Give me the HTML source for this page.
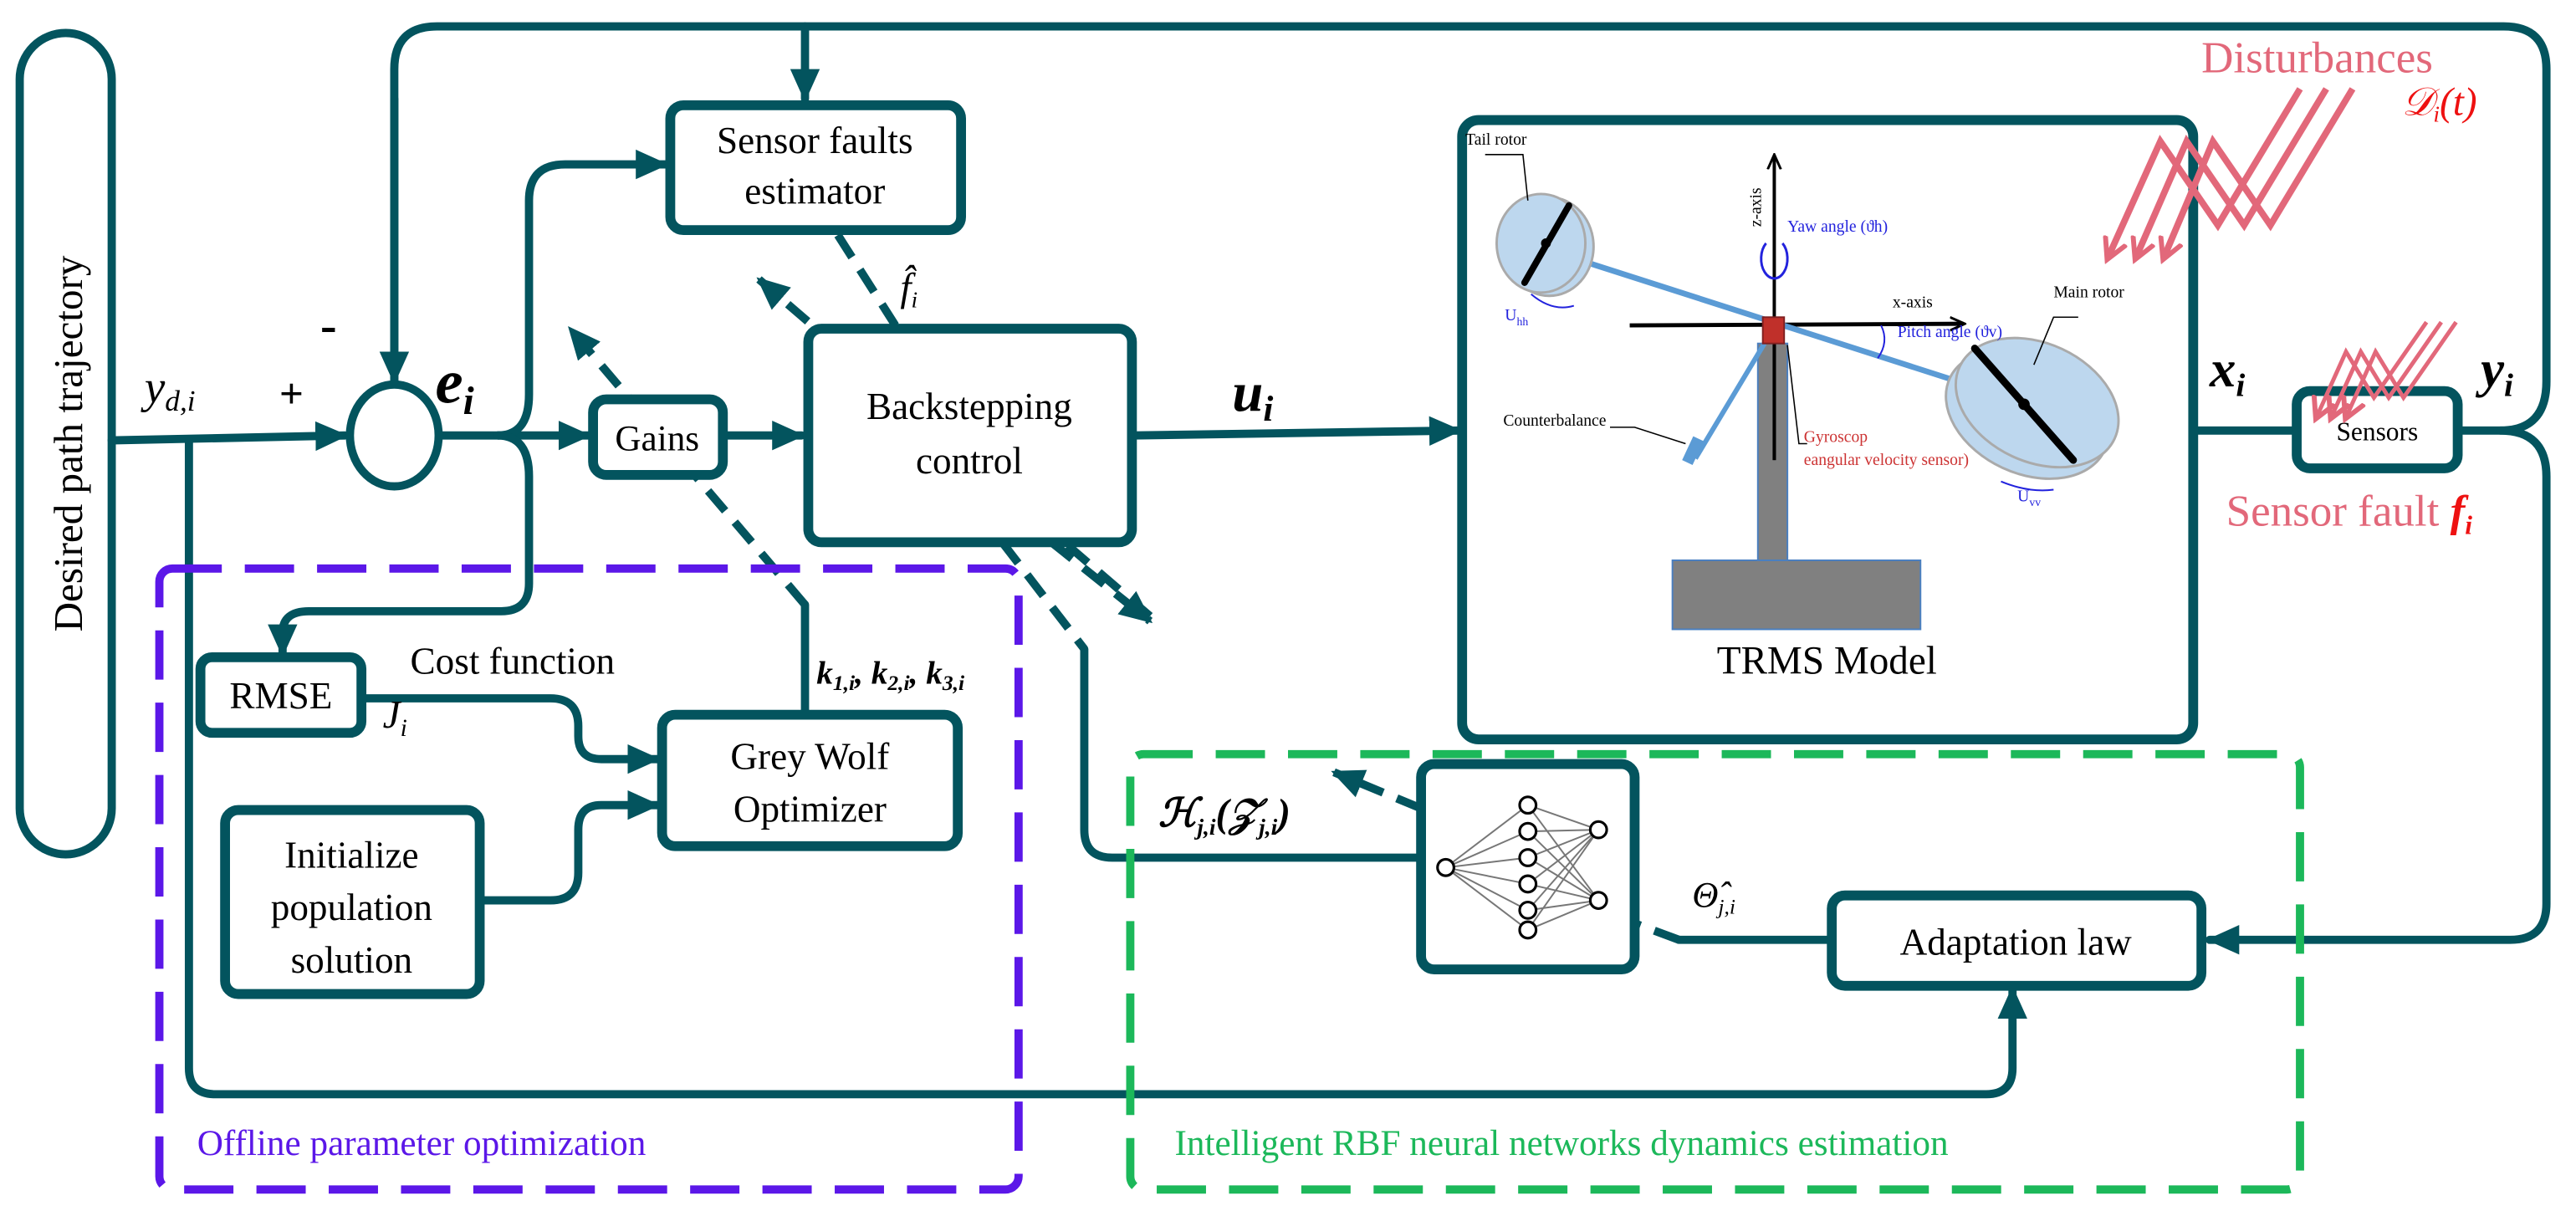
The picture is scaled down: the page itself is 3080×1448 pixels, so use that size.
<!DOCTYPE html>
<html><head><meta charset="utf-8"><style>
html,body{margin:0;padding:0;background:#fff}
svg{display:block}
text{font-family:"Liberation Serif",serif}
</style></head><body>
<svg width="3080" height="1448" viewBox="0 0 1568 737" xmlns="http://www.w3.org/2000/svg">
<defs>
<marker id="a" markerUnits="userSpaceOnUse" markerWidth="22" markerHeight="22" refX="18" refY="11" orient="auto"><path d="M0,2 L20,11 L0,20 Z" fill="#03545e"/></marker>
<marker id="p" markerUnits="userSpaceOnUse" markerWidth="16" markerHeight="16" refX="12" refY="8" orient="auto"><path d="M0,1 L13,8 L0,15" fill="none" stroke="#e2687a" stroke-width="3"/></marker>
<marker id="k" markerUnits="userSpaceOnUse" markerWidth="10" markerHeight="10" refX="8" refY="5" orient="auto"><path d="M0,1 L9,5 L0,9" fill="none" stroke="#000" stroke-width="1.5"/></marker>
</defs>
<g fill="none" stroke="#03545e" stroke-width="5" stroke-linecap="round" stroke-linejoin="round">
<rect x="12" y="20" width="56" height="500" rx="28"/>
<path d="M68,268 L210,265" marker-end="url(#a)"/>
<path d="M115,268 L115,650 Q115,666 131,666 L1209,666 Q1225,666 1225,650 L1225,602" marker-end="url(#a)"/>
<ellipse cx="240" cy="265" rx="27" ry="31"/>
<path d="M240,232 L240,42 Q240,16 266,16 L1524,16 Q1550,16 1550,42 L1550,232 Q1550,262 1522,262 L1497,262"/>
<path d="M1522,262 Q1550,262 1550,290 L1550,550 Q1550,572 1528,572 L1345,572" marker-end="url(#a)"/>
<path d="M240,60 L240,232" marker-end="url(#a)"/>
<path d="M490,16 L490,60" marker-end="url(#a)"/>
<path d="M268,265 L358,265" marker-end="url(#a)"/>
<path d="M303,265 Q322,265 322,240 L322,122 Q322,100 344,100 L405,100" marker-end="url(#a)"/>
<path d="M303,265 Q322,265 322,290 L322,355 Q322,372 305,372 L188,372 Q172,372 172,385 L172,398" marker-end="url(#a)"/>
<path d="M440,265 L488,265" marker-end="url(#a)"/>
<path d="M690,265 L888,262" marker-end="url(#a)"/>
<path d="M1335,262 L1398,262"/>
<path d="M220,425 L335,425 Q352,425 352,442 L352,448 Q352,462 366,462 L400,462" marker-end="url(#a)"/>
<path d="M292,548 L335,548 Q352,548 352,531 L352,505 Q352,490 366,490 L400,490" marker-end="url(#a)"/>
<path d="M490,368 L490,433"/>
<path d="M660,395 L660,505 Q660,522 677,522 L863,522"/>
<path d="M1115,572 L1022,572"/>
</g>
<g fill="none" stroke="#03545e" stroke-width="5" stroke-dasharray="16,9">
<path d="M510,143 L545,198"/>
<path d="M700,375 L462,170" marker-end="url(#a)"/>
<path d="M490,368 L347,200" marker-end="url(#a)"/>
<path d="M610,330 L660,395"/>
<path d="M640,330 L700,378" marker-end="url(#a)"/>
<path d="M865,492 L812,470" marker-end="url(#a)"/>
<path d="M1022,572 L995,562"/>
</g>
<g fill="#fff" stroke="#03545e" stroke-width="6">
<rect x="408" y="64" width="177" height="76" rx="8"/>
<rect x="361" y="243" width="79" height="46" rx="8"/>
<rect x="492" y="200" width="197" height="130" rx="8"/>
<rect x="890" y="73" width="445" height="377" rx="10"/>
<rect x="122" y="400" width="98" height="46" rx="7"/>
<rect x="403" y="435" width="180" height="80" rx="8"/>
<rect x="137" y="493" width="155" height="112" rx="8"/>
<rect x="865" y="465" width="130" height="125" rx="8"/>
<rect x="1115" y="545" width="225" height="55" rx="8"/>
<rect x="1398" y="238" width="98" height="47" rx="8"/>
</g>
<rect x="97" y="346" width="523" height="378" rx="8" fill="none" stroke="#5b17e8" stroke-width="5" stroke-dasharray="30,14"/>
<rect x="688" y="459" width="712" height="265" rx="8" fill="none" stroke="#1cb85a" stroke-width="5" stroke-dasharray="30,14"/>
<g font-size="23" text-anchor="middle" fill="#000">
<text transform="translate(50,270) rotate(-90)" font-size="25">Desired path trajectory</text>
<text x="496" y="93">Sensor faults</text>
<text x="496" y="124">estimator</text>
<text x="400" y="274" font-size="22">Gains</text>
<text x="590" y="255">Backstepping</text>
<text x="590" y="288">control</text>
<text x="171" y="431">RMSE</text>
<text x="493" y="468">Grey Wolf</text>
<text x="493" y="500">Optimizer</text>
<text x="214" y="528">Initialize</text>
<text x="214" y="560">population</text>
<text x="214" y="592">solution</text>
<text x="1227" y="581">Adaptation law</text>
<text x="1447" y="268" font-size="16">Sensors</text>
<text x="1112" y="410" font-size="24">TRMS Model</text>
<text x="312" y="410" font-size="23">Cost function</text>
</g>
<g fill="#000">
<text x="88" y="245" font-size="28" font-style="italic">y<tspan font-size="18" dy="5">d,i</tspan></text>
<text x="170" y="248" font-size="26" font-weight="bold">+</text>
<text x="195" y="208" font-size="30" font-weight="bold">-</text>
<text x="265" y="245" font-size="38" font-style="italic" font-weight="bold">e<tspan font-size="24" dy="7">i</tspan></text>
<text x="548" y="183" font-size="24" font-style="italic">f̂<tspan font-size="14" dy="4">i</tspan></text>
<text x="750" y="250" font-size="34" font-style="italic" font-weight="bold">u<tspan font-size="22" dy="6">i</tspan></text>
<text x="233" y="443" font-size="24" font-style="italic">J<tspan font-size="15" dy="5">i</tspan></text>
<text x="497" y="416" font-size="20" font-style="italic" font-weight="bold">k<tspan font-size="13" dy="4">1,i</tspan><tspan dy="-4">, k</tspan><tspan font-size="13" dy="4">2,i</tspan><tspan dy="-4">, k</tspan><tspan font-size="13" dy="4">3,i</tspan></text>
<text x="705" y="503" font-size="24" font-style="italic" font-weight="bold">ℋ<tspan font-size="14" dy="5">j,i</tspan><tspan dy="-5">(𝒵</tspan><tspan font-size="14" dy="5">j,i</tspan><tspan dy="-5">)</tspan></text>
<text x="1030" y="552" font-size="22" font-style="italic">Θ̂<tspan font-size="13" dy="4">j,i</tspan></text>
<text x="1345" y="235" font-size="32" font-style="italic" font-weight="bold">x<tspan font-size="20" dy="6">i</tspan></text>
<text x="1510" y="235" font-size="32" font-style="italic" font-weight="bold">y<tspan font-size="20" dy="6">i</tspan></text>
</g>
<text x="1340" y="44" font-size="27" fill="#e2687a">Disturbances</text>
<text x="1462" y="70" font-size="24" fill="#ee1111" font-style="italic">𝒟<tspan font-size="14" dy="4">i</tspan><tspan dy="-4">(t)</tspan></text>
<text x="1355" y="320" font-size="27" fill="#e2687a">Sensor fault <tspan fill="#ee1111" font-style="italic" font-weight="bold">f<tspan font-size="16" dy="5">i</tspan></tspan></text>
<text x="120" y="703" font-size="22" fill="#5b17e8">Offline parameter optimization</text>
<text x="715" y="703" font-size="22" fill="#1cb85a">Intelligent RBF neural networks dynamics estimation</text>
<g fill="none" stroke="#e2687a" stroke-width="4">
<polyline points="1400,54 1350,137 1315,86 1283,157" marker-end="url(#p)"/>
<polyline points="1416,54 1366,137 1331,86 1300,157" marker-end="url(#p)"/>
<polyline points="1432,54 1382,137 1347,86 1317,157" marker-end="url(#p)"/>
<g stroke-width="2.5">
<polyline points="1477,196 1445,242 1428,214 1410,254" marker-end="url(#p)"/>
<polyline points="1486,196 1454,242 1437,214 1419,254" marker-end="url(#p)"/>
<polyline points="1495,196 1463,242 1446,214 1428,254" marker-end="url(#p)"/>
</g>
</g>
<g stroke="#777" stroke-width="1">
<line x1="880" y1="528" x2="930" y2="490"/><line x1="880" y1="528" x2="930" y2="506"/><line x1="880" y1="528" x2="930" y2="522"/><line x1="880" y1="528" x2="930" y2="538"/><line x1="880" y1="528" x2="930" y2="554"/><line x1="880" y1="528" x2="930" y2="566"/>
<line x1="930" y1="490" x2="973" y2="505"/><line x1="930" y1="506" x2="973" y2="505"/><line x1="930" y1="522" x2="973" y2="505"/><line x1="930" y1="538" x2="973" y2="505"/><line x1="930" y1="554" x2="973" y2="505"/><line x1="930" y1="566" x2="973" y2="505"/>
<line x1="930" y1="490" x2="973" y2="548"/><line x1="930" y1="506" x2="973" y2="548"/><line x1="930" y1="522" x2="973" y2="548"/><line x1="930" y1="538" x2="973" y2="548"/><line x1="930" y1="554" x2="973" y2="548"/><line x1="930" y1="566" x2="973" y2="548"/>
</g>
<g fill="#fff" stroke="#000" stroke-width="1.6">
<circle cx="880" cy="528" r="5"/>
<circle cx="930" cy="490" r="5"/><circle cx="930" cy="506" r="5"/><circle cx="930" cy="522" r="5"/><circle cx="930" cy="538" r="5"/><circle cx="930" cy="554" r="5"/><circle cx="930" cy="566" r="5"/>
<circle cx="973" cy="505" r="5"/><circle cx="973" cy="548" r="5"/>
</g>
<rect x="1070" y="209" width="18" height="132" fill="#808080" stroke="#4a7fc0" stroke-width="1"/>
<rect x="1018" y="341" width="151" height="42" fill="#808080" stroke="#4a7fc0" stroke-width="1"/>
<line x1="1080" y1="280" x2="1080" y2="95" stroke="#000" stroke-width="2" marker-end="url(#k)"/>
<line x1="992" y1="198" x2="1195" y2="197" stroke="#000" stroke-width="2.5" marker-end="url(#k)"/>
<line x1="967" y1="160" x2="1232" y2="245" stroke="#5b9bd5" stroke-width="3.5"/>
<line x1="1074" y1="209" x2="1032" y2="279" stroke="#5b9bd5" stroke-width="3"/>
<rect x="1027" y="266" width="7" height="16" fill="#5b9bd5" transform="rotate(25 1030 274)"/>
<g fill="#bdd7ee" stroke="#aaa" stroke-width="1.5">
<ellipse cx="943" cy="150" rx="27" ry="30"/>
<ellipse cx="938" cy="148" rx="27" ry="30"/>
<ellipse cx="1234" cy="252" rx="52" ry="36" transform="rotate(25 1234 252)"/>
<ellipse cx="1240" cy="245" rx="52" ry="36" transform="rotate(25 1240 245)"/>
</g>
<line x1="955" y1="125" x2="928" y2="172" stroke="#000" stroke-width="4" stroke-linecap="round"/>
<circle cx="941" cy="148" r="3" fill="#000"/>
<line x1="1202" y1="212" x2="1262" y2="280" stroke="#000" stroke-width="4.5" stroke-linecap="round"/>
<circle cx="1232" cy="246" r="3.5" fill="#000"/>
<line x1="1080" y1="209" x2="1080" y2="280" stroke="#000" stroke-width="2"/>
<rect x="1073" y="193" width="13" height="16" fill="#c0302a" stroke="#802020" stroke-width="1"/>
<path d="M1075,148 A8,12 0 1 0 1085,148" fill="none" stroke="#2222dd" stroke-width="1.5"/>
<g font-size="10" fill="#000">
<text x="892" y="88">Tail rotor</text>
<text x="1250" y="181">Main rotor</text>
<text x="1152" y="187">x-axis</text>
<text x="915" y="259">Counterbalance</text>
<text transform="translate(1072,138) rotate(-90)">z-axis</text>
</g>
<g font-size="10" fill="#2222dd">
<text x="1088" y="141">Yaw angle (ϑh)</text>
<text x="1155" y="205">Pitch angle (ϑv)</text>
<text x="916" y="195">U<tspan font-size="7" dy="3">hh</tspan></text>
<text x="1228" y="305">U<tspan font-size="7" dy="3">vv</tspan></text>
</g>
<g font-size="10" fill="#cc3333">
<text x="1098" y="269">Gyroscop</text>
<text x="1098" y="283">eangular velocity sensor)</text>
</g>
<g fill="none" stroke="#000" stroke-width="0.8">
<polyline points="904,94 927,94 930,122"/>
<polyline points="1265,193 1250,193 1238,222"/>
<polyline points="1100,270 1095,270 1088,210"/>
<polyline points="980,260 995,260 1026,270"/>
</g>
<path d="M932,179 Q945,190 958,186" fill="none" stroke="#2222dd" stroke-width="1"/>
<path d="M1218,293 Q1235,300 1250,298" fill="none" stroke="#2222dd" stroke-width="1"/>
<path d="M1145,198 Q1150,208 1143,218" fill="none" stroke="#2222dd" stroke-width="1"/>
</svg>
</body></html>
